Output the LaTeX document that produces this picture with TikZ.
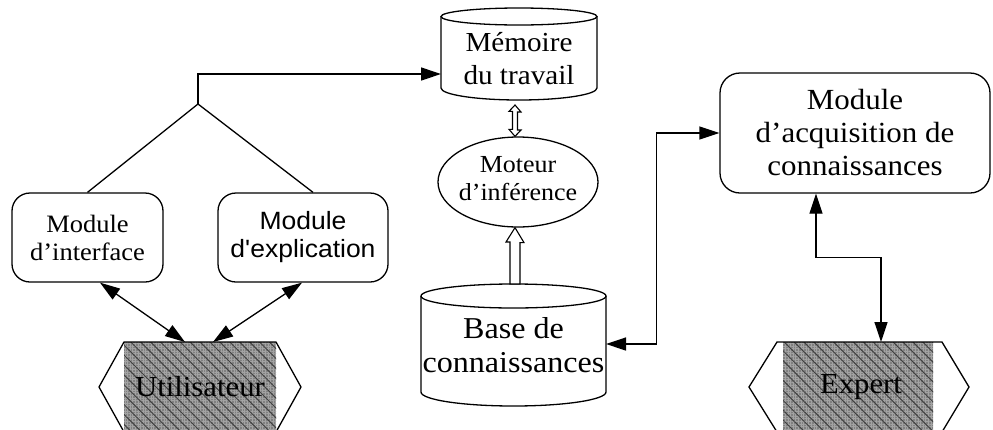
\documentclass[tikz,border=0pt]{standalone}
\usepackage{fontspec}
\setmainfont{Liberation Serif}[FakeStretch=1.06]
\newfontfamily\armsans{Liberation Sans}[FakeStretch=1.06]
\usetikzlibrary{arrows.meta,calc,patterns.meta,shapes.geometric}
\begin{document}
\begin{tikzpicture}[x=1pt,y=-1pt, line width=1.3pt,
  arrone/.style={-{Triangle[length=20pt,width=13pt]}},
  arrtwo/.style={{Triangle[length=20pt,width=13pt]}-{Triangle[length=20pt,width=13pt]}},
  rbox/.style={draw, rounded corners=18pt, align=center, inner sep=0pt},
  area/.style={inner sep=0pt, outer sep=0pt},
  hollow/.style={draw, fill=white, line width=1.1pt, line join=miter},
  lbl/.style={align=center, inner sep=0pt},
  shadebase/.style={fill=black!50},
  shadegrid/.style={pattern={Hatch[distance=2.6pt,line width=0.4pt]}, pattern color=black!36},
  shadelines/.style={pattern={Lines[angle=-45,distance=7pt,line width=1pt]}, pattern color=black!75}
]
\useasboundingbox (0,0) rectangle (993,429);

% --- Memoire du travail (cylinder)
\node[area, minimum width=156pt, minimum height=71.5pt] (mem) at (519,52.25) {};
\draw (mem.north) ellipse [x radius=78pt, y radius=8.5pt];
\draw (mem.north west) -- (mem.south west)
  arc[start angle=180, end angle=360, x radius=78pt, y radius=12pt] -- (mem.north east);
\node[lbl, font={\fontsize{27.5}{33}\selectfont}] (memlbl) at (519,59) {Mémoire\\du travail};

% --- Moteur d'inference
\node[ellipse, draw, minimum width=160pt, minimum height=90pt, inner sep=0pt] (mot) at (518,182) {};
\node[lbl, font={\fontsize{24.5}{28}\selectfont}] (motlbl) at (518,178.5) {Moteur\\d’inférence};

% --- Base de connaissances (cylinder)
\node[area, minimum width=185pt, minimum height=96pt] (base) at (513.5,344) {};
\draw (base.north) ellipse [x radius=92.5pt, y radius=12pt];
\draw (base.north west) -- (base.south west)
  arc[start angle=180, end angle=360, x radius=92.5pt, y radius=14pt] -- (base.north east);
\node[lbl, font={\fontsize{30.3}{34}\selectfont}] (baselbl) at (513.5,345) {Base de\\connaissances};

% --- Modules
\node[rbox, minimum width=151pt, minimum height=89pt, font={\fontsize{25}{28}\selectfont}] (iface) at (87.5,237.5) {Module\\d’interface};
\node[rbox, minimum width=170pt, minimum height=89pt, font={\armsans\fontsize{25}{28}\selectfont}] (expl) at (303,237.5) {Module\\d'explication};
\node[rbox, rounded corners=20pt, minimum width=270pt, minimum height=120pt, font={\fontsize{29.2}{33}\selectfont}] (acq) at (855,133) {Module\\d’acquisition de\\connaissances};

% --- Utilisateur (hexagon with shaded core)
\node[area, minimum width=202pt, minimum height=90pt] (user) at (200,387) {};
\fill[shadebase] ($(user.north west)+(25,0)$) rectangle ($(user.south east)+(-25,0)$);
\fill[shadegrid] ($(user.north west)+(25,0)$) rectangle ($(user.south east)+(-25,0)$);
\fill[shadelines] ($(user.north west)+(25,0)$) rectangle ($(user.south east)+(-25,0)$);
\draw (user.west) -- ($(user.north west)+(25,0)$) -- ($(user.north east)+(-25,0)$) -- (user.east)
  -- ($(user.south east)+(-25,0)$) -- ($(user.south west)+(25,0)$) -- cycle;
\node[lbl, font={\fontsize{29}{33}\selectfont}] (userlbl) at (user.center) {Utilisateur};

% --- Expert (hexagon with shaded core)
\node[area, minimum width=220pt, minimum height=90pt] (exp) at (859,387) {};
\fill[shadebase] ($(exp.north west)+(34,0)$) rectangle ($(exp.south east)+(-36,0)$);
\fill[shadegrid] ($(exp.north west)+(34,0)$) rectangle ($(exp.south east)+(-36,0)$);
\fill[shadelines] ($(exp.north west)+(34,0)$) rectangle ($(exp.south east)+(-36,0)$);
\draw (exp.west) -- ($(exp.north west)+(28,0)$) -- ($(exp.north east)+(-27,0)$) -- (exp.east)
  -- ($(exp.south east)+(-27,0)$) -- ($(exp.south west)+(28,0)$) -- cycle;
\node[lbl, font={\fontsize{29}{33}\selectfont}] (explbl) at ($(exp.center)+(2,0)$) {Expert};

% --- Connectors
\coordinate (apex) at (198,104);
\draw (iface.north) -- (apex) -- ($(expl.north)+(10,0)$);
\draw[arrone] (apex) |- ($(mem.south west)+(0,-14)$);
\draw[arrtwo] ($(iface.south)+(12.5,0)$) -- ($(user.north)+(-15,0)$);
\draw[arrtwo] ($(expl.south)+(-1,0)$) -- ($(user.north)+(13,0)$);
\draw[arrtwo] (base.east) -| ($(acq.west)+(-63,0)$) -- (acq.west);
\draw[arrtwo] ($(acq.south)+(-39,0)$) -- ++(0,64) -| ($(exp.north)+(22,0)$);

% hollow double arrow memoire <-> moteur
\coordinate (dtop) at ($(mem.south)+(-4,17)$);
\draw[hollow] (dtop) -- ++(6,7) -- ++(-3.5,0) -- ++(0,18) -- ++(3.5,0) -- ($(mot.north)+(-3,0)$)
  -- ++(-6,-7) -- ++(3.5,0) -- ++(0,-18) -- ++(-3.5,0) -- cycle;
% hollow arrow base -> moteur
\draw[hollow] ($(mot.south)+(-3,0)$) -- ++(9,15) -- ++(-4,0) -- ($(base.north)+(6.5,-12)$)
  -- ++(-10,0) -- ++(0,-42) -- ++(-4,0) -- cycle;
\end{tikzpicture}
\end{document}
